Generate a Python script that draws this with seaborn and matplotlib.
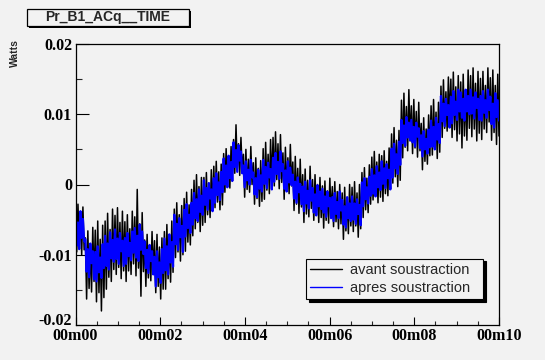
import numpy as np
import pandas as pd
import matplotlib
matplotlib.use("Agg")
import matplotlib.pyplot as plt
import seaborn as sns
from matplotlib.ticker import MultipleLocator, FixedLocator, FixedFormatter
from matplotlib.patches import Rectangle

# ---------------- data ----------------
title = "Pr_B1_ACq__TIME"
y_label = "Watts"
series_names = ["avant soustraction", "apres soustraction"]
series_colors = ["#000000", "#0000ff"]
x_tick_seconds = [0, 120, 240, 360, 480, 600]
x_tick_labels = ["00m00", "00m02", "00m04", "00m06", "00m08", "00m10"]
y_ticks = [-0.02, -0.01, 0.0, 0.01, 0.02]
y_tick_labels = ["-0.02", "-0.01", "0", "0.01", "0.02"]
t_start, t_end = 0, 600  # seconds, uniform sampling

# noisy signal before subtraction (Watts), one row ~ 14 s
avant = [
    -0.0036, -0.0096, -0.0028, -0.0089, -0.0043, -0.0100, -0.0032, -0.0093,
    -0.0076, -0.0163, -0.0066, -0.0148, -0.0087, -0.0153, -0.0061, -0.0138,
    -0.0065, -0.0167, -0.0052, -0.0154, -0.0078, -0.0180, -0.0058, -0.0161,
    -0.0052, -0.0149, -0.0041, -0.0132, -0.0064, -0.0138, -0.0035, -0.0121,
    -0.0044, -0.0128, -0.0033, -0.0118, -0.0054, -0.0134, -0.0038, -0.0123,
    -0.0053, -0.0138, -0.0043, -0.0123, -0.0063, -0.0128, -0.0038, -0.0113,
    -0.0046, -0.0130, -0.0007, -0.0119, -0.0056, -0.0159, -0.0040, -0.0124,
    -0.0079, -0.0145, -0.0071, -0.0133, -0.0087, -0.0137, -0.0067, -0.0126,
    -0.0080, -0.0154, -0.0071, -0.0145, -0.0089, -0.0163, -0.0076, -0.0149,
    -0.0067, -0.0149, -0.0057, -0.0134, -0.0076, -0.0139, -0.0052, -0.0125,
    -0.0035, -0.0104, -0.0026, -0.0096, -0.0043, -0.0109, -0.0030, -0.0100,
    -0.0020, -0.0095, -0.0011, -0.0082, -0.0029, -0.0086, -0.0007, -0.0073,
     0.0006, -0.0063,  0.0014, -0.0054, -0.0003, -0.0067,  0.0010, -0.0058,
     0.0010, -0.0054,  0.0017, -0.0043,  0.0002, -0.0047,  0.0021, -0.0035,
     0.0026, -0.0033,  0.0033, -0.0025,  0.0018, -0.0036,  0.0029, -0.0029,
     0.0044, -0.0011,  0.0051, -0.0001,  0.0038, -0.0005,  0.0054,  0.0005,
     0.0064,  0.0016,  0.0085,  0.0022,  0.0058,  0.0013,  0.0067,  0.0019,
     0.0043, -0.0018,  0.0050, -0.0007,  0.0036, -0.0011,  0.0054,  0.0000,
     0.0031, -0.0028,  0.0038, -0.0020,  0.0023, -0.0031,  0.0034, -0.0024,
     0.0051, -0.0021,  0.0060, -0.0008,  0.0043, -0.0013,  0.0064,  0.0000,
     0.0067, -0.0002,  0.0075,  0.0007,  0.0058, -0.0006,  0.0071,  0.0003,
     0.0045, -0.0021,  0.0053, -0.0009,  0.0038, -0.0013,  0.0057, -0.0002,
     0.0032, -0.0037,  0.0040, -0.0028,  0.0023, -0.0041,  0.0036, -0.0032,
     0.0014, -0.0054,  0.0022, -0.0042,  0.0006, -0.0046,  0.0026, -0.0034,
     0.0007, -0.0051,  0.0014, -0.0044,  0.0000, -0.0054,  0.0010, -0.0047,
    -0.0002, -0.0062,  0.0005, -0.0051, -0.0009, -0.0055,  0.0009, -0.0044,
    -0.0003, -0.0060,  0.0004, -0.0053, -0.0010, -0.0063,  0.0000, -0.0056,
    -0.0012, -0.0078, -0.0004, -0.0066, -0.0020, -0.0070,  0.0000, -0.0059,
    -0.0004, -0.0067,  0.0004, -0.0059, -0.0012, -0.0075,  0.0000, -0.0063,
     0.0017, -0.0047,  0.0024, -0.0036,  0.0009, -0.0040,  0.0028, -0.0028,
     0.0039, -0.0022,  0.0047, -0.0015,  0.0032, -0.0026,  0.0043, -0.0018,
     0.0041, -0.0024,  0.0048, -0.0013,  0.0033, -0.0016,  0.0052, -0.0005,
     0.0072,  0.0002,  0.0081,  0.0011,  0.0063, -0.0003,  0.0077,  0.0006,
     0.0120,  0.0038,  0.0130,  0.0053,  0.0111,  0.0048,  0.0135,  0.0062,
     0.0112,  0.0044,  0.0121,  0.0052,  0.0104,  0.0039,  0.0117,  0.0048,
     0.0087,  0.0021,  0.0095,  0.0033,  0.0079,  0.0029,  0.0099,  0.0041,
     0.0112,  0.0042,  0.0121,  0.0051,  0.0103,  0.0037,  0.0117,  0.0046,
     0.0140,  0.0067,  0.0149,  0.0080,  0.0132,  0.0076,  0.0153,  0.0089,
     0.0150,  0.0067,  0.0160,  0.0078,  0.0139,  0.0062,  0.0155,  0.0072,
     0.0146,  0.0052,  0.0157,  0.0069,  0.0135,  0.0063,  0.0163,  0.0080,
     0.0155,  0.0068,  0.0166,  0.0079,  0.0144,  0.0062,  0.0161,  0.0073,
     0.0151,  0.0064,  0.0161,  0.0079,  0.0141,  0.0074,  0.0166,  0.0089,
     0.0152,  0.0063,  0.0163,  0.0074,  0.0141,  0.0057,  0.0157,  0.0069,
]

# signal after subtraction (Watts)
apres = [
    -0.0043, -0.0087, -0.0054, -0.0092, -0.0038, -0.0076, -0.0049, -0.0081,
    -0.0078, -0.0124, -0.0092, -0.0132, -0.0084, -0.0112, -0.0095, -0.0135,
    -0.0096, -0.0138, -0.0088, -0.0125, -0.0104, -0.0133, -0.0085, -0.0119,
    -0.0073, -0.0116, -0.0084, -0.0121, -0.0068, -0.0105, -0.0079, -0.0110,
    -0.0064, -0.0106, -0.0077, -0.0113, -0.0069, -0.0095, -0.0080, -0.0116,
    -0.0076, -0.0113, -0.0069, -0.0102, -0.0083, -0.0108, -0.0067, -0.0097,
    -0.0062, -0.0104, -0.0073, -0.0109, -0.0057, -0.0093, -0.0067, -0.0099,
    -0.0081, -0.0119, -0.0093, -0.0126, -0.0086, -0.0109, -0.0095, -0.0128,
    -0.0103, -0.0145, -0.0095, -0.0132, -0.0111, -0.0140, -0.0092, -0.0126,
    -0.0077, -0.0122, -0.0088, -0.0128, -0.0071, -0.0111, -0.0082, -0.0117,
    -0.0043, -0.0085, -0.0056, -0.0093, -0.0048, -0.0075, -0.0059, -0.0096,
    -0.0036, -0.0074, -0.0028, -0.0062, -0.0043, -0.0069, -0.0026, -0.0057,
    -0.0012, -0.0048, -0.0021, -0.0052, -0.0007, -0.0039, -0.0016, -0.0043,
     0.0006, -0.0029, -0.0005, -0.0036,  0.0002, -0.0020, -0.0007, -0.0038,
     0.0009, -0.0026,  0.0016, -0.0015,  0.0003, -0.0022,  0.0018, -0.0011,
     0.0037,  0.0000,  0.0027, -0.0004,  0.0041,  0.0009,  0.0032,  0.0005,
     0.0060,  0.0025,  0.0049,  0.0018,  0.0056,  0.0034,  0.0047,  0.0016,
     0.0027, -0.0004,  0.0033,  0.0006,  0.0021,  0.0000,  0.0035,  0.0010,
     0.0017, -0.0014,  0.0009, -0.0018,  0.0021, -0.0006,  0.0013, -0.0010,
     0.0035,  0.0001,  0.0025, -0.0005,  0.0031,  0.0010,  0.0022, -0.0007,
     0.0038,  0.0004,  0.0045,  0.0015,  0.0032,  0.0008,  0.0047,  0.0019,
     0.0029, -0.0006,  0.0020, -0.0010,  0.0033,  0.0003,  0.0024, -0.0001,
     0.0014, -0.0020,  0.0004, -0.0026,  0.0010, -0.0011,  0.0001, -0.0028,
    -0.0003, -0.0038,  0.0004, -0.0027, -0.0009, -0.0034,  0.0006, -0.0023,
    -0.0005, -0.0040, -0.0014, -0.0044, -0.0001, -0.0031, -0.0010, -0.0035,
    -0.0006, -0.0040, -0.0017, -0.0046, -0.0010, -0.0031, -0.0019, -0.0048,
    -0.0018, -0.0052, -0.0012, -0.0042, -0.0025, -0.0048, -0.0010, -0.0037,
    -0.0022, -0.0057, -0.0031, -0.0061, -0.0018, -0.0048, -0.0027, -0.0052,
    -0.0017, -0.0050, -0.0027, -0.0056, -0.0021, -0.0042, -0.0029, -0.0058,
     0.0003, -0.0031,  0.0009, -0.0021, -0.0004, -0.0027,  0.0011, -0.0016,
     0.0022, -0.0013,  0.0013, -0.0017,  0.0026, -0.0004,  0.0017, -0.0008,
     0.0033,  0.0001,  0.0023, -0.0005,  0.0029,  0.0009,  0.0021, -0.0007,
     0.0051,  0.0010,  0.0058,  0.0023,  0.0043,  0.0015,  0.0061,  0.0028,
     0.0092,  0.0059,  0.0084,  0.0055,  0.0096,  0.0067,  0.0088,  0.0063,
     0.0092,  0.0060,  0.0082,  0.0054,  0.0088,  0.0068,  0.0080,  0.0052,
     0.0070,  0.0040,  0.0076,  0.0050,  0.0065,  0.0044,  0.0078,  0.0053,
     0.0091,  0.0054,  0.0082,  0.0050,  0.0095,  0.0064,  0.0086,  0.0059,
     0.0126,  0.0090,  0.0115,  0.0083,  0.0122,  0.0099,  0.0113,  0.0081,
     0.0125,  0.0087,  0.0133,  0.0099,  0.0118,  0.0092,  0.0135,  0.0104,
     0.0131,  0.0095,  0.0122,  0.0091,  0.0135,  0.0104,  0.0126,  0.0100,
     0.0135,  0.0101,  0.0124,  0.0094,  0.0131,  0.0109,  0.0122,  0.0092,
     0.0126,  0.0091,  0.0133,  0.0102,  0.0120,  0.0095,  0.0135,  0.0106,
     0.0125,  0.0086,  0.0115,  0.0081,  0.0130,  0.0096,  0.0120,  0.0091,
]

# ---------------- build table ----------------
t = np.linspace(t_start, t_end, len(avant))
df = pd.DataFrame({
    "t": np.concatenate([t, t]),
    "w": avant + apres,
    "serie": [series_names[0]] * len(avant) + [series_names[1]] * len(apres),
})

# ---------------- style ----------------
sns.set_style("ticks")
bg = "#f2f2f2"
plt.rcParams["font.family"] = ["Liberation Sans", "DejaVu Sans"]

W, H = 545, 360
fig = plt.figure(figsize=(W / 100, H / 100), dpi=100, facecolor=bg)
ax = fig.add_axes([75.5 / W, 1 - 325 / H, (499 - 75.5) / W, (325 - 44) / H])
ax.set_facecolor(bg)

sns.lineplot(data=df, x="t", y="w", hue="serie", hue_order=series_names,
             palette=series_colors, estimator=None, sort=False,
             linewidth=1.0, ax=ax, legend=True)
for ln, lw in zip(ax.get_lines(), [1.1, 1.6]):
    ln.set_linewidth(lw)

ax.set_xlim(t_start, t_end)
ax.set_ylim(-0.02, 0.02)
ax.set_xlabel("")
ax.set_ylabel("")

ax.xaxis.set_major_locator(FixedLocator(x_tick_seconds))
ax.xaxis.set_major_formatter(FixedFormatter(x_tick_labels))
ax.xaxis.set_minor_locator(MultipleLocator(30))
ax.yaxis.set_major_locator(FixedLocator(y_ticks))
ax.yaxis.set_major_formatter(FixedFormatter(y_tick_labels))
ax.yaxis.set_minor_locator(MultipleLocator(0.005))

ax.tick_params(axis="y", which="major", direction="in", length=9.2, width=0.8,
               left=True, right=False, pad=2.5, colors="black")
ax.tick_params(axis="y", which="minor", direction="in", length=4.6, width=0.8,
               left=True, right=False)
ax.tick_params(axis="x", which="major", direction="in", length=6.0, width=0.8,
               bottom=True, top=False, pad=2.5, colors="black")
ax.tick_params(axis="x", which="minor", direction="in", length=3.0, width=0.8,
               bottom=True, top=False)
for lab in ax.get_xticklabels() + ax.get_yticklabels():
    lab.set_family(["Liberation Serif", "DejaVu Serif"])
    lab.set_fontweight("bold")
    lab.set_fontsize(11.5)
ax.get_yticklabels()[0].set_verticalalignment("baseline")

for sp in ax.spines.values():
    sp.set_visible(True)
    sp.set_color("black")
    sp.set_linewidth(0.9)

# legend
handles, labels = ax.get_legend_handles_labels()
hl = dict(zip(labels, handles))
leg = ax.legend([hl[n] for n in series_names], series_names,
                loc="lower left", bbox_to_anchor=(0.544, 0.0925, 0.418, 0.143),
                mode="expand", borderaxespad=0, frameon=True, fancybox=False,
                shadow={"color": "black", "alpha": 1.0},
                facecolor=bg, edgecolor="black", framealpha=1,
                fontsize=10.5, handlelength=2.2, handletextpad=0.5,
                labelspacing=0.25, borderpad=0.3)
leg.get_frame().set_linewidth(0.8)
for ln in leg.get_lines():
    ln.set_linewidth(1.0)

# title box with shadow
fig.add_artist(Rectangle((29 / W, 1 - 28 / H), 162 / W, 17 / H,
                         transform=fig.transFigure, facecolor="black",
                         edgecolor="black", lw=0))
fig.add_artist(Rectangle((27 / W, 1 - 26 / H), 162 / W, 17 / H,
                         transform=fig.transFigure, facecolor=bg,
                         edgecolor="black", lw=0.9))
fig.text(108 / W, 1 - 17.5 / H, title, ha="center", va="center",
         fontsize=10, fontweight="bold", family=["Liberation Sans", "DejaVu Sans"])

# y axis title
fig.text(15 / W, 1 - 39 / H, y_label, rotation=90, ha="center", va="top",
         fontsize=7.5, fontweight="bold", family=["Liberation Sans", "DejaVu Sans"])

fig.savefig("out.png", dpi=100, facecolor=bg)
